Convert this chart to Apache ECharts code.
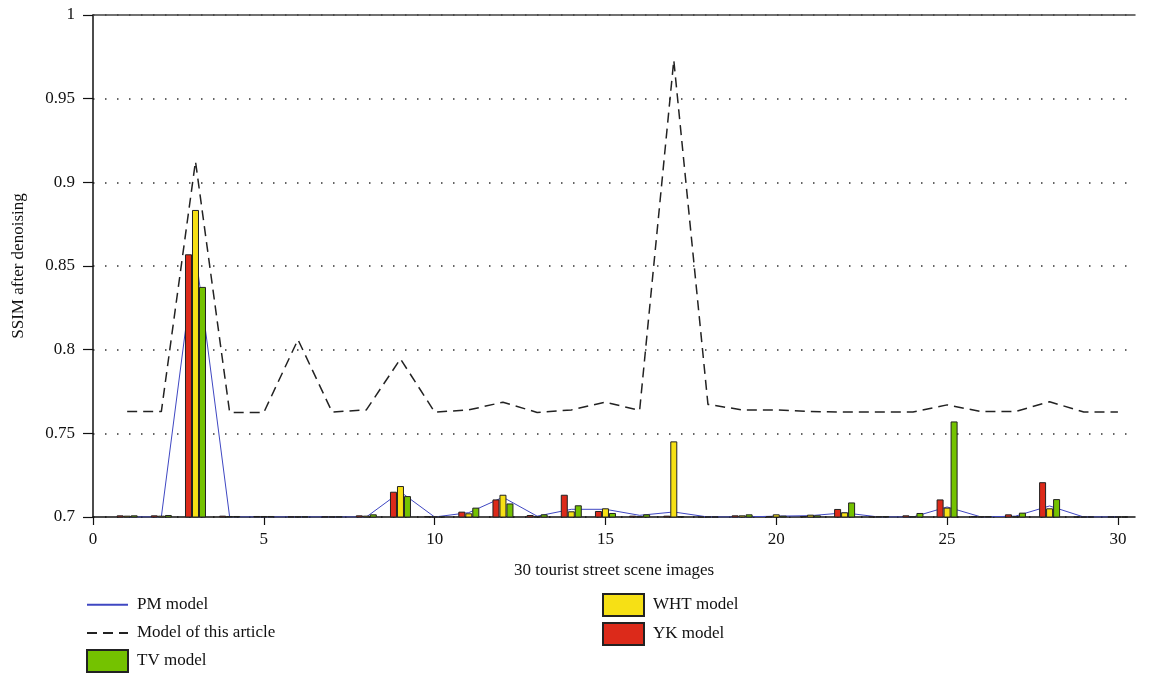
<!DOCTYPE html>
<html>
<head>
<meta charset="utf-8">
<script src="https://cdn.jsdelivr.net/npm/echarts@6/dist/echarts.min.js"></script>
<style>
html,body{margin:0;padding:0;background:#fff;}
#chart{width:1162px;height:675px;}
</style>
</head>
<body>
<div id="chart"></div>
<script>
const images = [1,2,3,4,5,6,7,8,9,10,11,12,13,14,15,16,17,18,19,20,21,22,23,24,25,26,27,28,29,30];
const articleModel = [0.763,0.763,0.9125,0.7625,0.7625,0.806,0.7627,0.764,0.7945,0.7627,0.764,0.7686,0.7625,0.764,0.7686,0.7637,0.973,0.7673,0.764,0.764,0.763,0.7627,0.7627,0.7627,0.767,0.763,0.763,0.7689,0.7627,0.7627];
const pmModel = [0.7,0.7,0.858,0.7,0.7,0.7,0.7,0.7,0.715,0.7,0.7026,0.7118,0.7005,0.7046,0.7046,0.701,0.703,0.7,0.7,0.7005,0.7008,0.7025,0.7,0.7,0.706,0.7,0.7005,0.7066,0.7,0.7];
const ykModel = [0.701,0.701,0.857,0.7008,0.7006,0.7004,0.7004,0.701,0.7151,0.7006,0.7032,0.7105,0.7012,0.7133,0.7036,0.7008,0.7008,0.7003,0.701,0.7005,0.7006,0.7048,0.7005,0.701,0.7105,0.7006,0.7016,0.7208,0.7003,0.7003];
const whtModel = [0.7008,0.7008,0.8835,0.7006,0.7006,0.7004,0.7004,0.7008,0.7185,0.7004,0.7022,0.7133,0.7005,0.7034,0.7052,0.7005,0.7452,0.7003,0.701,0.7016,0.7014,0.7028,0.7005,0.7005,0.7056,0.7005,0.7005,0.7052,0.7003,0.7003];
const tvModel = [0.701,0.7012,0.8375,0.7006,0.7006,0.7004,0.7004,0.7016,0.7125,0.7004,0.7056,0.7081,0.7016,0.707,0.7024,0.7016,0.7005,0.7003,0.7016,0.7008,0.701,0.7087,0.7005,0.7024,0.7571,0.7005,0.7026,0.7107,0.7003,0.7003];
const xTicks = [0,5,10,15,20,25,30];
const yTicks = [0.7,0.75,0.8,0.85,0.9,0.95,1];

const pair = arr => images.map((x,i)=>[x,arr[i]]);
const FONT = 'Liberation Serif';
const chart = echarts.init(document.getElementById('chart'), null, {renderer:'canvas'});
const barStyle = c => ({color:c, borderColor:'#222', borderWidth:1});
const hiddenSymbol = {color:'rgba(0,0,0,0)', borderColor:'rgba(0,0,0,0)', borderWidth:0, opacity:0};
const legendBase = {
  orient:'vertical', itemWidth:41, itemHeight:22, height:120, padding:0,
  textStyle:{fontFamily:FONT, fontSize:17, color:'#111', padding:[0,0,0,4]}
};
chart.setOption({
  animation:false,
  backgroundColor:'#fff',
  textStyle:{fontFamily:FONT},
  grid:{left:93, right:27, top:15, bottom:158, containLabel:false},
  xAxis:[{
    type:'value', min:xTicks[0], max:30.5, interval:5,
    name:'30 tourist street scene images', nameLocation:'middle', nameGap:45,
    nameTextStyle:{fontFamily:FONT, fontSize:17, color:'#111'},
    axisLine:{show:true, onZero:false, lineStyle:{color:'#111', width:1.5}},
    axisTick:{show:true, inside:false, length:8, lineStyle:{color:'#111', width:1.2}},
    axisLabel:{fontFamily:FONT, fontSize:17, color:'#111', margin:14, showMaxLabel:false,
      formatter: v => xTicks.indexOf(v) >= 0 ? String(v) : ''},
    splitLine:{show:false}
  },{
    type:'value', position:'top', min:xTicks[0], max:30.5,
    axisLine:{show:true, onZero:false, lineStyle:{color:'#444', width:1.5}},
    axisTick:{show:false}, axisLabel:{show:false}, splitLine:{show:false}
  }],
  yAxis:{
    type:'value', min:yTicks[0], max:yTicks[yTicks.length-1], interval:0.05,
    name:'SSIM after denoising', nameLocation:'middle', nameGap:66,
    nameTextStyle:{fontFamily:FONT, fontSize:17, color:'#111'},
    axisLine:{show:true, onZero:false, lineStyle:{color:'#111', width:1.5}},
    axisTick:{show:true, inside:false, length:10, lineStyle:{color:'#111', width:1.2}},
    axisLabel:{fontFamily:FONT, fontSize:17, color:'#111', margin:18,
      formatter: v => { const r = Math.round(v*100)/100; return String(r); }},
    splitLine:{show:true, lineStyle:{color:'#333', width:1.5, type:[1.5,10.5]}}
  },
  legend:[Object.assign({}, legendBase, {
    left:86, top:596, itemGap:10.5,
    data:[
      {name:'PM model', itemStyle:hiddenSymbol},
      {name:'Model of this article', itemStyle:hiddenSymbol}
    ]
  }), Object.assign({}, legendBase, {
    left:86, top:649, itemGap:5,
    data:[{name:'TV model', icon:'rect'}]
  }), Object.assign({}, legendBase, {
    left:602, top:593, itemGap:5,
    data:[{name:'WHT model', icon:'rect'},{name:'YK model', icon:'rect'}]
  })],
  series:[
    {name:'YK model', type:'bar', data:pair(ykModel), barWidth:7, barGap:'0%', itemStyle:barStyle('#dc2a1a'), z:3},
    {name:'WHT model', type:'bar', data:pair(whtModel), barWidth:7, barGap:'0%', itemStyle:barStyle('#f6e015'), z:3},
    {name:'TV model', type:'bar', data:pair(tvModel), barWidth:7, barGap:'0%', itemStyle:barStyle('#74c200'), z:3},
    {name:'PM model', type:'line', data:pair(pmModel), symbol:'none', z:2,
      lineStyle:{color:'#3f47c2', width:1}, itemStyle:{color:'#3f47c2'}},
    {name:'Model of this article', type:'line', data:pair(articleModel), symbol:'none', z:4,
      lineStyle:{color:'#222', width:1.5, type:[10,6]}, itemStyle:{color:'#222'}}
  ]
});
</script>
</body>
</html>
